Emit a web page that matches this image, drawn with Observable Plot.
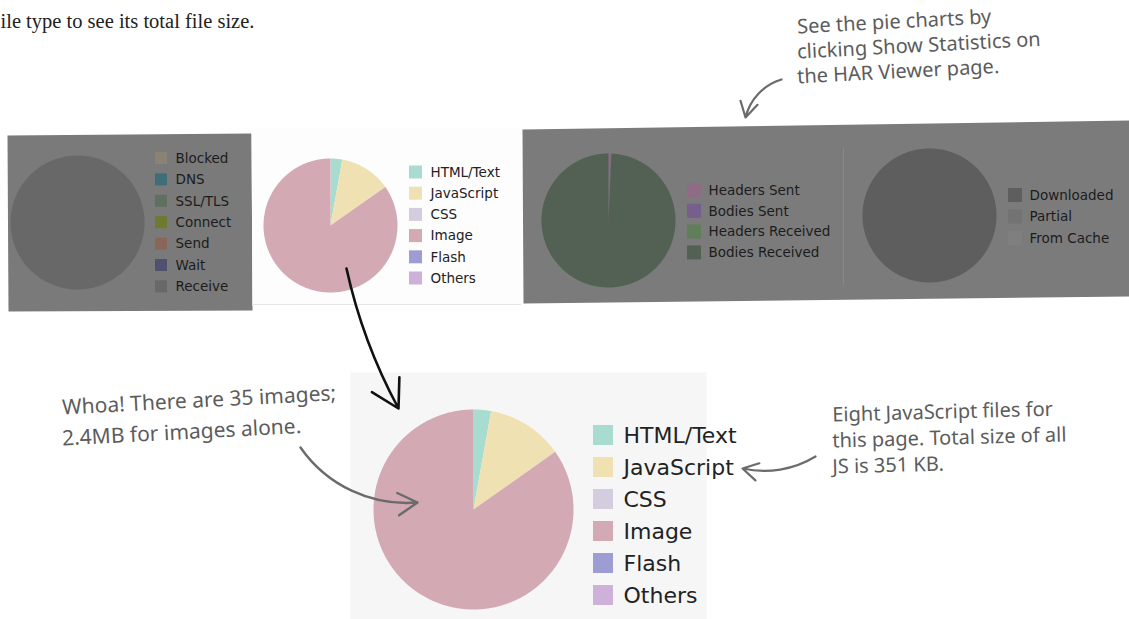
<!DOCTYPE html>
<html><head><meta charset="utf-8">
<script src="https://cdn.jsdelivr.net/npm/d3@7"></script>
<script src="https://cdn.jsdelivr.net/npm/@observablehq/plot@0.6"></script>
<style>body{margin:0;background:#fff;overflow:hidden}</style>
</head><body><div id="chart"></div>
<script>
// ---------- data ----------
const timingLabels = ["Blocked","DNS","SSL/TLS","Connect","Send","Wait","Receive"];
const timingValues = [0,0,0,0,0,0,100];
const typeLabels = ["HTML/Text","JavaScript","CSS","Image","Flash","Others"];
const typeSizesKB = [80,351,0,2400,0,0];
const trafficLabels = ["Headers Sent","Bodies Sent","Headers Received","Bodies Received"];
const trafficValues = [0.6,0.1,0,99.3];
const cacheLabels = ["Downloaded","Partial","From Cache"];
const cacheValues = [100,0,0];
const pageText = ["ile type to see its total file size."];
const noteStats = ["See the pie charts by","clicking Show Statistics on","the HAR Viewer page."];
const noteImages = ["Whoa! There are 35 images;","2.4MB for images alone."];
const noteJS = ["Eight JavaScript files for","this page. Total size of all","JS is 351 KB."];

// ---------- styles ----------
const timingColors = ["#8a8272","#3f6e78","#607060","#6d7a30","#8a6659","#505070","#686868"];
const typeColors = ["#a9dcd1","#f0e1b3","#d3cddf","#d3a9b3","#9e9dd3","#cdb1d9"];
const trafficColors = ["#8e6c86","#765f8c","#5e7f58","#536154"];
const cacheColors = ["#5e5e5e","#737373","#7f7f7f"];
const W = 1129, H = 619;
const HAND = "'Noto Sans', 'Open Sans', sans-serif";
const UI = "'DejaVu Sans', sans-serif";

const charts = [
  {id:"timing", labels:timingLabels, values:timingValues, colors:timingColors, cx:77, cy:222, r:67, lx:155, ly:158, step:21.4, sq:12, gap:8, fs:13.5, fc:"#1c1c1c"},
  {id:"type", labels:typeLabels, values:typeSizesKB, colors:typeColors, cx:330, cy:225, r:67, lx:409, ly:172, step:21.2, sq:13, gap:8, fs:13.5, fc:"#222"},
  {id:"traffic", labels:trafficLabels, values:trafficValues, colors:trafficColors, cx:608, cy:220, r:67, lx:687, ly:190, step:20.8, sq:14, gap:7, fs:13.5, fc:"#1c1c1c"},
  {id:"cache", labels:cacheLabels, values:cacheValues, colors:cacheColors, cx:929, cy:215, r:67, lx:1008, ly:195, step:21.5, sq:14, gap:7, fs:13.5, fc:"#1c1c1c"},
  {id:"typeBig", labels:typeLabels, values:typeSizesKB, colors:typeColors, cx:473, cy:509, r:100, lx:593, ly:435, step:32, sq:20, gap:10, fs:22, fc:"#222"}
];

// pie wedges as closed polygons (from d3.pie angles)
function wedges(ch) {
  const arcs = d3.pie().sort(null).value(d => d)(ch.values);
  const pts = [];
  arcs.forEach((a, i) => {
    const span = a.endAngle - a.startAngle;
    if (span <= 0) return;
    const key = ch.id + "-" + i, fill = ch.colors[i];
    if (span < 2 * Math.PI - 1e-6) pts.push({key, x: ch.cx, y: ch.cy, fill});
    const n = Math.max(4, Math.ceil(span / 0.01));
    for (let k = 0; k <= n; k++) {
      const t = a.startAngle + span * k / n;
      pts.push({key, x: ch.cx + ch.r * Math.sin(t), y: ch.cy - ch.r * Math.cos(t), fill});
    }
  });
  return pts;
}
const slices = charts.flatMap(wedges);

const legendRows = charts.flatMap(ch => ch.labels.map((label, i) => ({
  chart: ch.id, label, fill: ch.colors[i], fs: ch.fs, fc: ch.fc,
  x1: ch.lx, x2: ch.lx + ch.sq,
  y1: ch.ly + i * ch.step - ch.sq / 2, y2: ch.ly + i * ch.step + ch.sq / 2,
  tx: ch.lx + ch.sq + ch.gap, ty: ch.ly + i * ch.step
})));

// background panels (screenshot strip)
const panels = [
  {key:"p1", fill:"#7a7a7a", pts:[[7,135],[251,133],[252,310],[8,311]]},
  {key:"p2", fill:"#fdfdfd", pts:[[251,128],[522,127],[522,304],[252,305]]},
  {key:"p3", fill:"#7b7b7b", pts:[[522,129],[1129,120],[1129,296],[523,303]]},
  {key:"p4", fill:"#f6f6f6", pts:[[350,372],[706,372],[706,619],[350,619]]}
].flatMap(p => p.pts.map(([x, y]) => ({key: p.key, fill: p.fill, x, y})));

function lines(arr, x0, y0, lh, rot) {
  return arr.map((t, i) => ({t, x: x0, y: y0 + i * lh, rot}));
}
const notes = [
  ...lines(noteStats, 797, 33, 25, -3).map(d => ({...d, fs: 20})),
  ...lines(noteImages, 62, 414, 31, -3).map(d => ({...d, fs: 21})),
  ...lines(noteJS, 832, 421, 26, -1.5).map(d => ({...d, fs: 20}))
];

const arrows = [
  {x1:346, y1:268, x2:398, y2:408, bend:-8, stroke:"#111", sw:2.6, hl:18},
  {x1:300, y1:447, x2:417, y2:502, bend:-30, stroke:"#6b6b6b", sw:2.4, hl:14},
  {x1:815, y1:456, x2:742, y2:468, bend:22, stroke:"#6b6b6b", sw:2.2, hl:12},
  {x1:781, y1:79, x2:745, y2:117, bend:-30, stroke:"#6b6b6b", sw:2.2, hl:12}
];

const chart = Plot.plot({
  width: W, height: H,
  margin: 0,
  x: {domain: [0, W], range: [0, W], axis: null},
  y: {domain: [0, H], range: [0, H], axis: null},
  color: {type: "identity"},
  style: {background: "#fff"},
  marks: [
    Plot.line(panels, {x:"x", y:"y", z:"key", fill:"fill", stroke:"none", curve:"linear-closed"}),
    Plot.ruleX([843], {y1:148, y2:285, stroke:"#888", strokeWidth:1}),
    Plot.ruleY([304], {x1:252, x2:521, stroke:"#e6e6e6", strokeWidth:1}),
    Plot.line(slices, {x:"x", y:"y", z:"key", fill:"fill", stroke:"none", curve:"linear-closed"}),
    Plot.rect(legendRows, {x1:"x1", x2:"x2", y1:"y1", y2:"y2", fill:"fill"}),
    ...charts.map(ch => Plot.text(legendRows.filter(d => d.chart === ch.id), {
      x:"tx", y:"ty", text:"label", textAnchor:"start", lineAnchor:"middle",
      fontSize: ch.fs, fill: ch.fc, fontFamily: UI
    })),
    Plot.text(pageText, {x: () => 0, y: () => 27, text: d => d, textAnchor:"start", lineAnchor:"bottom",
      fontSize: 20.5, fill:"#222", fontFamily:"'Liberation Serif', serif"}),
    Plot.text(notes, {x:"x", y:"y", text:"t", rotate:"rot", fontSize:"fs", textAnchor:"start", lineAnchor:"bottom",
      fill:"#5c5c5c", fontFamily: HAND}),
    ...arrows.map(a => Plot.arrow([a], {x1:"x1", y1:"y1", x2:"x2", y2:"y2", bend:a.bend, stroke:a.stroke, strokeWidth:a.sw, headLength:a.hl}))
  ]
});
document.getElementById("chart").append(chart);
</script>
</body></html>
